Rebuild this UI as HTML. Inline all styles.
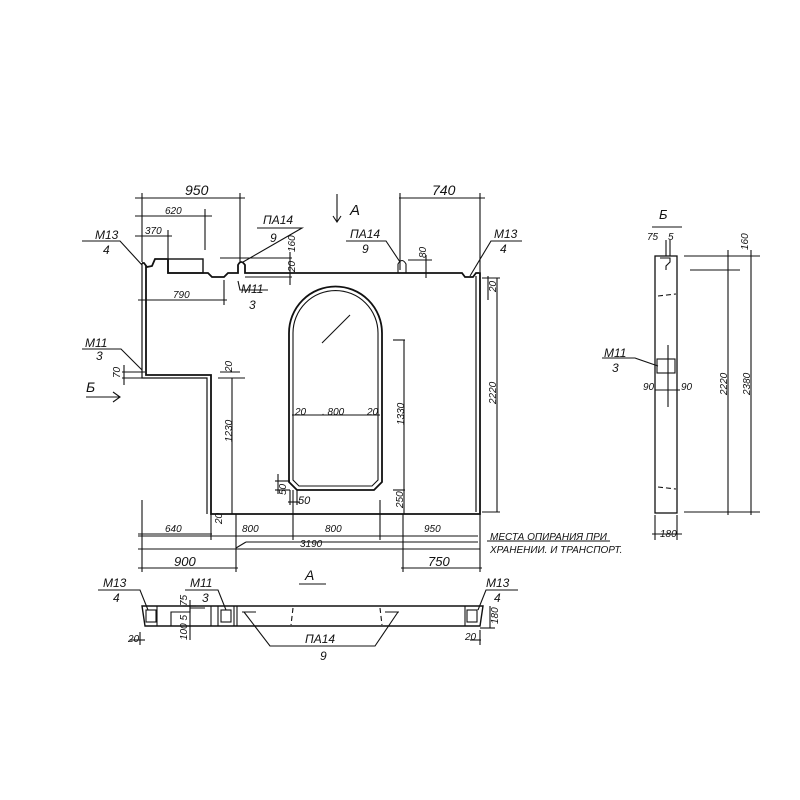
<!DOCTYPE html>
<html><head><meta charset="utf-8"><style>
html,body{margin:0;padding:0;background:#fff}
svg{display:block}
text{font-family:"Liberation Sans",sans-serif;fill:#111;font-style:italic}
</style></head><body>
<svg width="800" height="800" viewBox="0 0 800 800" xmlns="http://www.w3.org/2000/svg">
<g fill="none" stroke="#111" stroke-width="1.1">
<!-- main outline -->
<path stroke-width="1.8" d="M142,263 L144,263 L147,267 L152,266 L155,259 L168,259 L168,273 L203,273 L208,273 L212,277 L224,277 L228,273 L238,273 L238,265 Q241,259 245,265 L245,273 L462,273 L465,277 L473,277 L476,273 L480,273 L480,514 L211,514 L211,375 L146,375 L146,266"/>
<path stroke-width="1.2" d="M142,263 L142,378 L207,378 L207,514"/>
<path stroke-width="1.2" d="M476,276 L476,512"/>
<rect x="168" y="259" width="35" height="14" stroke-width="1.4"/>
<path d="M398,273 L398,264 Q402,257 406,264 L406,273"/>
<!-- window -->
<path stroke-width="1.8" d="M289,333 A46.5,46.5 0 0 1 382,333 L382,482 L374,490 L297,490 L289,482 Z"/>
<path stroke-width="1.1" d="M293,333 A42.5,42.5 0 0 1 378,333 L378,480 L372,486 L299,486 L293,480 Z"/>
<line x1="292" y1="415" x2="380" y2="415"/>
<line x1="322" y1="343" x2="350" y2="315"/>
<!-- top dims -->
<line x1="135" y1="198" x2="245" y2="198"/>
<line x1="142" y1="193" x2="142" y2="262"/><line x1="240" y1="193" x2="240" y2="262"/>
<line x1="135" y1="216" x2="212" y2="216"/><line x1="205" y1="209" x2="205" y2="250"/>
<line x1="135" y1="236" x2="172" y2="236"/><line x1="168" y1="230" x2="168" y2="258"/>
<line x1="138" y1="300" x2="227" y2="300"/><line x1="224" y1="280" x2="224" y2="305"/>
<line x1="220" y1="258" x2="292" y2="258"/><line x1="245" y1="277" x2="292" y2="277"/>
<line x1="290" y1="252" x2="290" y2="285"/>
<line x1="399" y1="198" x2="485" y2="198"/>
<line x1="400" y1="193" x2="400" y2="270"/><line x1="480" y1="193" x2="480" y2="272"/>
<line x1="408" y1="260" x2="432" y2="260"/><line x1="426" y1="255" x2="426" y2="278"/>
<line x1="488" y1="276" x2="488" y2="300"/>
<line x1="497" y1="278" x2="497" y2="512"/><line x1="482" y1="278" x2="500" y2="278"/><line x1="482" y1="512" x2="500" y2="512"/>
<line x1="404" y1="340" x2="404" y2="514"/><line x1="393" y1="340" x2="405" y2="340"/><line x1="393" y1="490" x2="405" y2="490"/>
<line x1="232" y1="378" x2="232" y2="514"/><line x1="218" y1="378" x2="245" y2="378"/><line x1="220" y1="372" x2="240" y2="372"/>
<line x1="122" y1="372" x2="145" y2="372"/><line x1="122" y1="378" x2="145" y2="378"/><line x1="124" y1="365" x2="124" y2="385"/>
<line x1="275" y1="481" x2="290" y2="481"/><line x1="275" y1="490" x2="290" y2="490"/><line x1="278" y1="474" x2="278" y2="494"/>
<line x1="290" y1="490" x2="290" y2="505"/><line x1="297" y1="490" x2="297" y2="505"/><line x1="288" y1="502" x2="300" y2="502"/>
<!-- bottom dims -->
<line x1="142" y1="500" x2="142" y2="572"/>
<line x1="138" y1="534" x2="212" y2="534"/>
<line x1="138" y1="536" x2="478" y2="536"/>
<line x1="211" y1="514" x2="211" y2="540"/>
<line x1="236" y1="514" x2="236" y2="572"/>
<line x1="293" y1="490" x2="293" y2="540"/><line x1="380" y1="500" x2="380" y2="540"/>
<line x1="403" y1="514" x2="403" y2="572"/>
<line x1="236" y1="548" x2="246" y2="542"/><line x1="246" y1="542" x2="478" y2="542"/>
<line x1="138" y1="549" x2="480" y2="549"/>
<line x1="138" y1="568" x2="238" y2="568"/><line x1="401" y1="568" x2="482" y2="568"/>
<line x1="480" y1="514" x2="480" y2="572"/>
<line x1="487" y1="541" x2="610" y2="541"/>
<!-- leaders -->
<path d="M82,241 L120,241 L142,265"/><path d="M257,228 L302,228 L243,262"/>
<path d="M238,281 L240,290 L268,290"/><path d="M346,241 L386,241 L400,262"/>
<path d="M522,241 L491,241 L470,276"/><path d="M82,349 L121,349 L142,370"/>
<path d="M337,194 L337,222 M333,216 L337,222 L341,216"/>
<path d="M86,397 L120,397 M113,392 L120,397 L113,402"/>
<!-- plan A -->
<path stroke-width="1.4" d="M142,606 L483,606 L480,626 L145,626 Z"/>
<line x1="157" y1="606" x2="157" y2="626"/><line x1="211" y1="606" x2="211" y2="626"/><line x1="218" y1="606" x2="218" y2="626"/><line x1="234" y1="606" x2="234" y2="626"/><line x1="237" y1="606" x2="237" y2="626"/><line x1="465" y1="606" x2="465" y2="626"/>
<rect x="146" y="610" width="10" height="12"/><rect x="221" y="610" width="10" height="12"/><rect x="467" y="610" width="10" height="12"/>
<path d="M171,626 L171,612 L190,612 L190,608 L205,608"/>
<path stroke-dasharray="5,3" d="M293,608 L291,625 M380,608 L382,625"/>
<path d="M242,612 L256,612 M385,612 L399,612"/>
<path d="M244,612 L270,646 L375,646 L398,612"/>
<path d="M98,590 L140,590 L148,610"/><path d="M185,590 L218,590 L226,610"/><path d="M518,590 L486,590 L478,610"/>
<line x1="299" y1="584" x2="326" y2="584"/>
<line x1="190" y1="600" x2="190" y2="640"/><line x1="183" y1="606" x2="196" y2="606"/>
<line x1="140" y1="632" x2="140" y2="645"/><line x1="145" y1="640" x2="130" y2="640"/>
<line x1="490" y1="606" x2="490" y2="628"/><line x1="480" y1="628" x2="495" y2="628"/>
<line x1="481" y1="640" x2="470" y2="640"/><line x1="480" y1="630" x2="480" y2="645"/>
<!-- section B -->
<rect x="655" y="256" width="22" height="257" stroke-width="1.3"/>
<line x1="652" y1="227" x2="682" y2="227"/>
<path d="M660,258 L670,258 L670,262 L666,266 L666,270"/>
<path stroke-dasharray="5,3" d="M658,296 L676,294 M658,487 L676,489"/>
<rect x="657" y="359" width="18" height="14"/><line x1="668" y1="345" x2="668" y2="407"/>
<path d="M602,358 L635,358 L658,366"/>
<line x1="655" y1="390" x2="680" y2="390"/>
<line x1="666" y1="240" x2="666" y2="256"/><line x1="670" y1="240" x2="670" y2="256"/>
<line x1="684" y1="256" x2="760" y2="256"/><line x1="690" y1="270" x2="740" y2="270"/><line x1="684" y1="512" x2="760" y2="512"/>
<line x1="728" y1="250" x2="728" y2="515"/><line x1="751" y1="250" x2="751" y2="515"/>
<line x1="655" y1="515" x2="655" y2="540"/><line x1="677" y1="515" x2="677" y2="540"/><line x1="652" y1="534" x2="682" y2="534"/>
</g>
<g font-size="12">
<text x="185" y="195" font-style="normal" font-size="14">950</text>
<text x="432" y="195" font-style="normal" font-size="14">740</text>
<text x="165" y="214" font-size="10">620</text>
<text x="145" y="234" font-size="10">370</text>
<text x="173" y="298" font-size="10">790</text>
<text x="263" y="224" font-style="normal">ПА14</text><text x="270" y="242" font-style="normal">9</text>
<text x="350" y="238" font-style="normal">ПА14</text><text x="362" y="253" font-style="normal">9</text>
<text x="95" y="239" font-style="normal">М13</text><text x="103" y="254" font-style="normal">4</text>
<text x="494" y="238" font-style="normal">М13</text><text x="500" y="253" font-style="normal">4</text>
<text x="241" y="293" font-style="normal">М11</text><text x="249" y="309" font-style="normal">3</text>
<text x="85" y="347" font-style="normal">М11</text><text x="96" y="360" font-style="normal">3</text>
<text x="350" y="215" font-style="normal" font-size="15">А</text>
<text x="86" y="392" font-style="normal" font-size="14">Б</text>
<text x="295" y="415" font-size="10">20</text><text x="322" y="415" font-size="10">. 800</text><text x="367" y="415" font-size="10">20</text>
<text x="298" y="504" font-size="11">50</text>
<text x="165" y="532" font-size="10">640</text>
<text x="242" y="532" font-size="10" font-style="normal">800</text>
<text x="325" y="532" font-size="10" font-style="normal">800</text>
<text x="424" y="532" font-size="10" font-style="normal">950</text>
<text x="300" y="547" font-size="10">3190</text>
<text x="174" y="566" font-size="13" font-style="normal">900</text>
<text x="428" y="566" font-size="13" font-style="normal">750</text>
<text x="490" y="540" font-size="10" font-style="normal">МЕСТА ОПИРАНИЯ ПРИ</text>
<text x="490" y="553" font-size="10" font-style="normal">ХРАНЕНИИ. И ТРАНСПОРТ.</text>
<text x="305" y="580" font-size="14" font-style="normal">А</text>
<text x="103" y="587" font-style="normal">М13</text><text x="113" y="602" font-style="normal">4</text>
<text x="190" y="587" font-style="normal">М11</text><text x="202" y="602" font-style="normal">3</text>
<text x="486" y="587" font-style="normal">М13</text><text x="494" y="602" font-style="normal">4</text>
<text x="305" y="643" font-style="normal">ПА14</text><text x="320" y="660" font-style="normal">9</text>
<text x="128" y="642" font-size="10" font-style="normal">20</text><text x="465" y="640" font-size="10" font-style="normal">20</text>
<text x="659" y="219" font-size="13" font-style="normal">Б</text>
<text x="647" y="240" font-size="10" font-style="normal">75</text><text x="668" y="240" font-size="10" font-style="normal">5</text>
<text x="604" y="357" font-style="normal">М11</text><text x="612" y="372" font-style="normal">3</text>
<text x="643" y="390" font-size="10" font-style="normal">90</text><text x="681" y="390" font-size="10" font-style="normal">90</text>
<text x="660" y="537" font-size="10" font-style="normal">180</text>
</g>
<g font-size="10">
<text transform="translate(232,442) rotate(-90)">1230</text>
<text transform="translate(404,425) rotate(-90)">1330</text>
<text transform="translate(403,508) rotate(-90)">250</text>
<text transform="translate(496,404) rotate(-90)">2220</text>
<text transform="translate(727,395) rotate(-90)">2220</text>
<text transform="translate(750,395) rotate(-90)">2380</text>
<text transform="translate(496,292) rotate(-90)">20</text>
<text transform="translate(232,372) rotate(-90)">20</text>
<text transform="translate(120,378) rotate(-90)">70</text>
<text transform="translate(286,495) rotate(-90)">50</text>
<text transform="translate(295,272) rotate(-90)">20</text>
<text transform="translate(295,252) rotate(-90)">160</text>
<text transform="translate(426,258) rotate(-90)">80</text>
<text transform="translate(748,250) rotate(-90)">160</text>
<text transform="translate(187,606) rotate(-90)">75</text>
<text transform="translate(187,640) rotate(-90)">100 5</text>
<text transform="translate(498,624) rotate(-90)">180</text>
<text transform="translate(222,524) rotate(-90)">20</text>
</g>
</svg>
</body></html>
